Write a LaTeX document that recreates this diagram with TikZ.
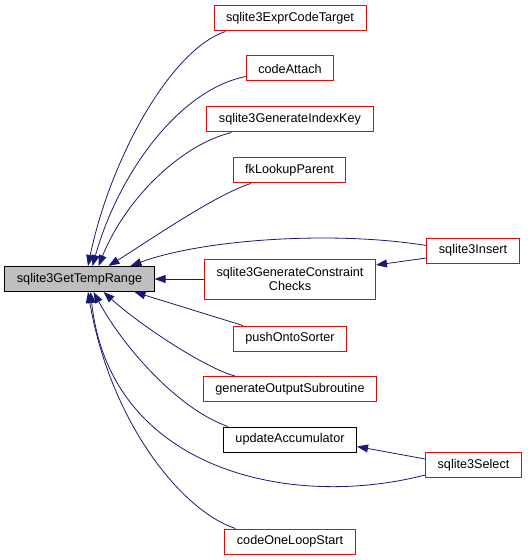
\documentclass[tikz,border=0pt]{standalone}
\usepackage{fontspec}
\setmainfont{Liberation Sans}
\usetikzlibrary{arrows.meta}
\definecolor{edgeblue}{RGB}{25,25,112}

\begin{document}
\begin{tikzpicture}[x=1bp,y=-1bp,
  fn/.style={rectangle,draw=red,fill=white,line width=1bp,minimum height=25bp,
    inner xsep=12bp,inner ysep=2bp,font=\fontsize{12.7}{15}\selectfont},
  cur/.style={fn,draw=black,fill=gray!50},
  blk/.style={fn,draw=black},
  arr/.style={-{Triangle[length=11bp,width=8bp]},draw=edgeblue,line width=0.8bp}
]
\useasboundingbox (0,0) rectangle (528,560);
\node[cur] (tr) at (79.5,279) {sqlite3GetTempRange};
\node[fn] (ect) at (290,18.5) {sqlite3ExprCodeTarget};
\node[fn] (ca) at (290,68.5) {codeAttach};
\node[fn] (gik) at (290,119.5) {sqlite3GenerateIndexKey};
\node[fn] (fklp) at (289.5,170.5) {fkLookupParent};
\node[fn,align=center,minimum height=40bp] (gcc) at (290,279) {sqlite3GenerateConstraint\\Checks};
\node[fn] (pos) at (290,338.5) {pushOntoSorter};
\node[fn] (gos) at (290,389) {generateOutputSubroutine};
\node[blk] (ua) at (290,439.5) {updateAccumulator};
\node[fn] (cols) at (290,541.5) {codeOneLoopStart};
\node[fn] (ins) at (473,250.5) {sqlite3Insert};
\node[fn] (sel) at (473.5,465) {sqlite3Select};
% callers above
\draw[arr] ([xshift=12bp]ect.south west) .. controls (170,50) and (110,160) .. ([xshift=8.5bp]tr.north);
\draw[arr] ([yshift=5bp]ca.south west) .. controls (178,90) and (118,175) .. ([xshift=13bp]tr.north);
\draw[arr] ([xshift=25bp]gik.south west) .. controls (180,145) and (125,200) .. ([xshift=19bp]tr.north);
\draw[arr] ([xshift=18bp]fklp.south west) .. controls (215,195) and (150,240) .. ([xshift=29bp]tr.north);
\draw[arr] ([yshift=5bp]ins.west) .. controls (330,230) and (200,240) .. ([xshift=51bp]tr.north);
\draw[arr] ([yshift=-7.5bp]ins.west) -- ([yshift=14bp]gcc.east);
\draw[arr] (gcc.west) -- (tr.east);
% callers below
\draw[arr] ([xshift=10bp]pos.north west) -- ([xshift=55bp]tr.south);
\draw[arr] ([xshift=32bp]gos.north west) .. controls (205,368) and (140,325) .. ([xshift=24bp]tr.south);
\draw[arr] ([xshift=5bp]ua.north west) .. controls (180,410) and (125,350) .. ([xshift=14bp]tr.south);
\draw[arr] ([yshift=6bp]sel.west) -- ([yshift=-7bp]ua.east);
\draw[arr] ([yshift=3bp]sel.south west) .. controls (290,510) and (110,470) .. ([xshift=11bp]tr.south);
\draw[arr] ([xshift=11bp]cols.north west) .. controls (180,510) and (110,420) .. ([xshift=8.5bp]tr.south);
\end{tikzpicture}
\end{document}
